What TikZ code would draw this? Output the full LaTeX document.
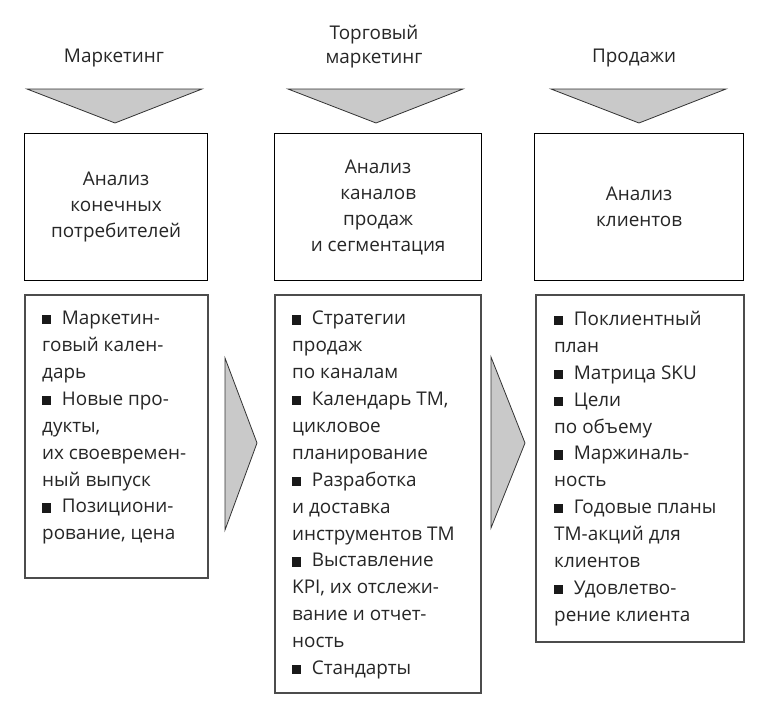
\documentclass[tikz,border=0pt]{standalone}
\usepackage{fontspec}
\setmainfont{Open Sans}
\newcommand{\sqbul}{\raisebox{0.3pt}{\color{black!90}\rule{9.2pt}{9.2pt}}\hspace{10.5pt}}
\begin{document}
\begin{tikzpicture}[x=1pt,y=-1pt,
  txt/.style={font=\fontsize{18.9}{26.9}\selectfont, text=black!85, inner sep=0pt},
  toptxt/.style={font=\fontsize{18.9}{26}\selectfont, text=black!85, inner sep=0pt, align=center},
  lbl/.style={font=\fontsize{18.9}{24}\selectfont, text=black!85, inner sep=0pt, align=center, anchor=north},
  topbox/.style={draw=black, line width=1.3pt, fill=white, anchor=north west, inner sep=0pt},
  listbox/.style={draw=black!70, line width=1.5pt, anchor=north west, inner sep=0pt},
  headtri/.style={fill=gray!42, draw=black!80, line width=0.8pt, line join=miter},
  sidetri/.style={fill=gray!42, draw=black!80, line width=0.8pt, line join=miter}
]
\useasboundingbox (0,0) rectangle (772,720);
\fill[white] (0,0) rectangle (772,720);

% top labels
\node[lbl] (l1) at (114,49) {Маркетинг};
\node[lbl] (l2) at (374,25) {Торговый\\маркетинг};
\node[lbl] (l3) at (634,49) {Продажи};

% header triangles
\draw[headtri] (27,89) -- (202,89) -- (115,123) -- cycle;
\draw[headtri] (288,89) -- (463,89) -- (376,123) -- cycle;
\draw[headtri] (551,89) -- (726,89) -- (639,123) -- cycle;

% top boxes
\node[topbox, minimum width=183pt, minimum height=147pt] (b1) at (24,133) {};
\node[topbox, minimum width=207pt, minimum height=147pt] (b2) at (274,133) {};
\node[topbox, minimum width=209pt, minimum height=147pt] (b3) at (534,133) {};

\node[toptxt] (bt1) at (b1.center) {Анализ\\конечных\\потребителей};
\node[toptxt] (bt2) at (b2.center) {Анализ\\каналов\\продаж\\и сегментация};
\node[toptxt] (bt3) at (b3.center) {Анализ\\клиентов};

% list boxes
\node[listbox, minimum width=183pt, minimum height=283pt] (c1) at (24,294) {};
\node[listbox, minimum width=206pt, minimum height=398pt] (c2) at (274,294) {};
\node[listbox, minimum width=208pt, minimum height=347pt] (c3) at (535,294) {};

\node[txt, align=left, anchor=north west] (ct1) at (42,311) {\sqbul Маркетин-\\говый кален-\\дарь\\\sqbul Новые про-\\дукты,\\их своевремен-\\ный выпуск\\\sqbul Позициони-\\рование, цена};
\node[txt, align=left, anchor=north west] (ct2) at (292,311) {\sqbul Стратегии\\продаж\\по каналам\\\sqbul Календарь ТМ,\\цикловое\\планирование\\\sqbul Разработка\\и доставка\\инструментов ТМ\\\sqbul Выставление\\KPI, их отслежи-\\вание и отчет-\\ность\\\sqbul Стандарты};
\node[txt, align=left, anchor=north west] (ct3) at (554,311) {\sqbul Поклиентный\\план\\\sqbul Матрица SKU\\\sqbul Цели\\по объему\\\sqbul Маржиналь-\\ность\\\sqbul Годовые планы\\ТМ-акций для\\клиентов\\\sqbul Удовлетво-\\рение клиента};

% side arrows
\draw[sidetri] (225,358) -- (257,443) -- (225,530) -- cycle;
\draw[sidetri] (491,357) -- (525,443) -- (491,528) -- cycle;
\end{tikzpicture}
\end{document}
